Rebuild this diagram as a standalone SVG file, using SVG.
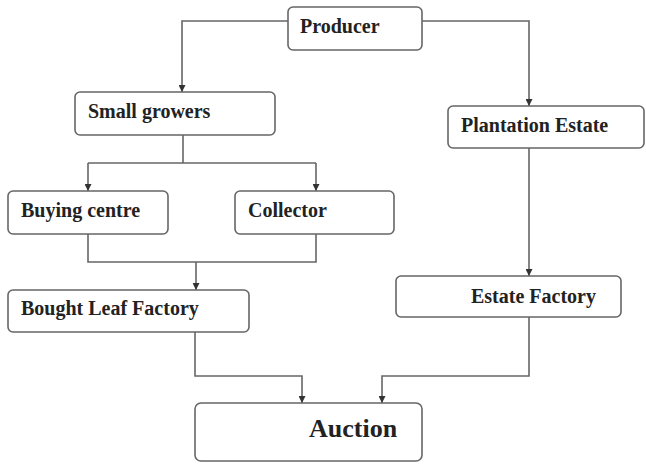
<svg xmlns="http://www.w3.org/2000/svg" width="646" height="464" viewBox="0 0 646 464">
<style>
.box{fill:#fff;stroke:#666;stroke-width:1.6}
.t{font-family:"Liberation Serif","Times New Roman",serif;font-weight:bold;font-size:20px;fill:#222}
.big{font-size:26px}
.c{fill:none;stroke:#666;stroke-width:1.6}
</style>
<defs>
<marker id="ah" viewBox="0 0 10 10" refX="10" refY="5" markerWidth="7" markerHeight="7" orient="auto" markerUnits="userSpaceOnUse">
<path d="M0,0 L10,5 L0,10 z" fill="#333"/>
</marker>
</defs>
<rect width="646" height="464" fill="#fff"/>
<g id="connectors">
<path class="c" d="M288,21 H182 V92" marker-end="url(#ah)"/>
<path class="c" d="M422,21 H529 V106" marker-end="url(#ah)"/>
<path class="c" d="M183,135 V163"/>
<path class="c" d="M88,163 H316"/>
<path class="c" d="M88,163 V191" marker-end="url(#ah)"/>
<path class="c" d="M316,163 V191" marker-end="url(#ah)"/>
<path class="c" d="M88,234 V262 H316 V234"/>
<path class="c" d="M196,262 V290" marker-end="url(#ah)"/>
<path class="c" d="M529,148 V276" marker-end="url(#ah)"/>
<path class="c" d="M195,332 V376 H302 V403" marker-end="url(#ah)"/>
<path class="c" d="M529,317 V376 H382 V403" marker-end="url(#ah)"/>
</g>
<g id="producer">
<rect class="box" x="288" y="7" width="134" height="43" rx="5"/>
<text class="t" x="300" y="33">Producer</text>
</g>
<g id="small-growers">
<rect class="box" x="75" y="92" width="200" height="43" rx="5"/>
<text class="t" x="88" y="118">Small growers</text>
</g>
<g id="plantation-estate">
<rect class="box" x="448" y="106" width="196" height="42" rx="5"/>
<text class="t" x="461" y="132">Plantation Estate</text>
</g>
<g id="buying-centre">
<rect class="box" x="8" y="191" width="160" height="43" rx="5"/>
<text class="t" x="21" y="217">Buying centre</text>
</g>
<g id="collector">
<rect class="box" x="235" y="191" width="159" height="43" rx="5"/>
<text class="t" x="248" y="217">Collector</text>
</g>
<g id="bought-leaf-factory">
<rect class="box" x="8" y="290" width="241" height="42" rx="5"/>
<text class="t" x="21" y="315">Bought Leaf Factory</text>
</g>
<g id="estate-factory">
<rect class="box" x="396" y="276" width="225" height="41" rx="5"/>
<text class="t" x="471" y="303">Estate Factory</text>
</g>
<g id="auction">
<rect class="box" x="195" y="403" width="227" height="58" rx="6"/>
<text class="t big" x="309" y="437">Auction</text>
</g>
</svg>
